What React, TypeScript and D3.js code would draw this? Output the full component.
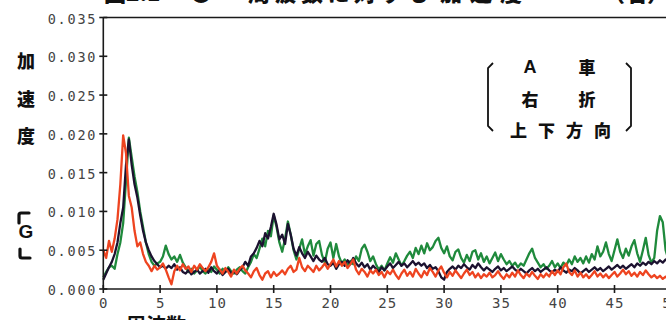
import React from 'react';
import * as d3 from 'd3';

// Frequency step of the sampled spectra (Hz)
const FREQ_STEP = 0.25;

// Acceleration values in units of 0.001 G, sampled every 0.25 Hz from 0 Hz
const SERIES_BLACK = [
  1.2,2.0,2.8,3.5,4.5,6.0,8.5,10.5,16.0,19.3,16.0,13.5,11.8,9.5,7.5,6.0,5.0,4.2,3.6,3.2,
  2.8,3.0,2.6,3.0,2.7,3.2,2.5,2.8,2.2,2.0,2.4,1.9,2.2,2.5,2.0,2.3,2.6,2.1,2.8,2.3,
  2.0,2.5,1.8,2.2,2.6,2.0,2.3,1.9,2.4,2.8,3.5,3.0,4.2,4.6,5.3,6.2,5.5,7.2,6.5,8.0,
  9.7,8.3,6.4,7.0,5.8,8.4,7.0,5.2,4.3,5.4,4.6,4.0,4.8,4.2,3.6,4.3,3.8,3.5,4.0,3.2,
  3.0,3.4,2.6,3.2,3.5,3.0,3.7,3.2,4.0,3.3,2.9,3.4,2.8,3.2,2.5,3.0,2.6,2.2,2.8,2.4,
  2.9,3.3,2.7,3.1,3.5,3.0,3.3,2.8,3.2,3.6,3.1,3.4,3.0,3.3,2.7,3.1,2.6,2.8,2.3,1.5,
  1.2,2.2,2.6,2.9,2.5,3.0,2.7,3.2,2.8,2.5,3.1,2.7,3.3,2.8,2.4,2.8,2.5,2.2,2.6,2.9,
  2.4,2.7,2.3,2.6,2.9,2.5,2.2,2.6,2.3,2.0,2.4,2.7,2.3,2.6,2.2,2.5,2.8,2.4,2.1,2.5,
  2.2,2.8,2.4,2.1,2.5,2.3,2.7,2.4,2.0,2.3,2.6,2.2,2.5,2.8,2.4,2.7,2.3,2.6,2.9,2.5,
  2.8,3.1,2.7,3.0,2.6,2.9,3.2,2.8,3.3,3.0,3.4,3.1,3.5,3.2,3.6,3.3,3.7,3.4,3.8,3.5,
  3.6,3.4,3.7,3.5,
];

const SERIES_GREEN = [
  1.5,2.2,2.8,3.0,2.6,4.5,6.0,8.5,14.0,19.5,17.0,14.5,12.5,10.0,8.0,6.0,4.5,3.5,3.0,3.3,
  3.5,4.2,5.6,4.5,3.8,4.2,3.5,4.4,3.4,2.8,2.2,2.6,2.0,2.4,2.9,2.3,2.0,2.6,2.2,2.9,
  2.5,2.0,2.6,2.2,2.8,2.3,2.0,2.5,2.8,2.3,2.0,2.8,3.5,4.5,4.0,5.2,6.5,5.5,7.5,6.8,
  9.5,8.0,6.0,4.8,6.5,8.7,7.0,5.0,3.8,5.2,6.4,4.5,5.5,6.3,4.3,5.8,6.2,4.4,3.4,5.2,
  6.0,4.0,5.8,4.2,3.3,3.8,3.0,3.6,3.2,4.2,3.6,5.2,5.7,4.8,3.6,4.2,3.2,2.5,3.0,2.4,
  3.3,4.1,3.4,4.6,3.8,3.0,3.6,4.3,4.8,4.0,5.3,4.5,5.6,4.6,5.9,5.0,5.4,6.2,6.6,5.3,
  4.6,5.5,4.2,3.7,4.8,5.1,4.0,3.4,4.4,3.6,4.8,5.0,3.8,4.6,3.5,4.2,3.3,4.0,4.7,3.6,
  4.5,3.8,3.2,3.6,3.0,3.4,2.8,3.3,3.0,3.8,4.6,5.2,4.0,3.4,2.8,3.2,2.6,3.0,3.6,2.8,
  3.3,2.7,3.4,3.0,3.8,3.2,4.2,3.5,4.0,3.3,4.2,3.4,4.5,3.8,5.5,4.2,4.8,6.0,4.5,3.6,
  5.0,6.4,4.8,4.0,5.2,4.3,5.5,6.3,4.6,3.5,5.0,6.6,4.4,3.4,4.0,7.5,9.4,8.6,5.0,3.8,
  6.0,5.0,4.5,5.2,
];

const SERIES_RED = [
  5.0,4.0,6.2,4.8,6.5,9.0,13.5,19.8,17.5,12.0,10.5,7.5,5.5,6.0,4.5,3.5,3.0,2.3,3.0,2.5,
  2.8,3.3,2.5,1.5,0.6,2.3,3.0,2.4,3.2,2.6,2.9,2.2,3.0,2.5,3.2,2.7,2.3,2.8,3.5,4.6,
  3.0,2.5,2.0,2.7,2.2,1.6,2.5,2.0,2.6,3.0,2.4,2.0,1.5,2.3,2.7,1.8,1.2,2.0,2.3,1.5,
  2.2,1.7,2.0,2.4,1.9,2.6,3.0,2.2,2.5,4.0,2.8,2.3,3.0,2.6,2.2,3.0,2.4,2.8,3.3,2.6,
  3.2,3.8,2.9,3.6,3.0,3.5,2.7,3.2,3.8,2.5,1.9,2.6,2.2,1.6,2.4,2.0,2.5,1.8,2.2,1.5,
  2.3,1.9,2.5,1.8,1.3,2.0,2.5,1.7,2.2,1.6,2.6,2.0,1.5,2.3,1.8,2.7,2.2,1.6,2.4,2.9,
  2.1,1.5,2.2,1.7,2.4,1.9,1.4,2.0,2.5,1.8,2.2,1.5,2.0,1.4,1.9,1.6,2.1,1.5,1.8,2.3,
  1.7,1.3,1.9,1.5,2.1,1.6,2.4,1.8,1.4,2.0,1.6,2.2,1.7,1.3,1.9,1.5,2.0,1.6,2.3,1.8,
  2.4,1.9,2.8,3.3,2.2,1.8,2.4,1.6,2.1,1.5,1.9,1.4,1.8,2.3,1.6,2.0,1.5,1.9,1.4,1.8,
  2.2,1.6,2.0,2.5,1.9,2.3,1.7,2.1,1.6,2.2,1.8,2.4,1.9,1.5,1.8,1.4,1.7,1.3,1.6,1.2,
  1.5,1.3,1.6,1.4,
];

const X_TICKS = [0, 5, 10, 15, 20, 25, 30, 35, 40, 45, 50];
const Y_TICKS = [0, 0.005, 0.01, 0.015, 0.02, 0.025, 0.03, 0.035];
const Y_TICK_LABELS = ['0.000', '0.005', '0.010', '0.015', '0.020', '0.025', '0.030', '0.035'];
const Y_TITLE_CHARS = ['加', '速', '度'];
const LEGEND_ROW1 = ['A', '車'];
const LEGEND_ROW2 = ['右', '折'];
const LEGEND_ROW3 = ['上', '下', '方', '向'];

const COLOR_GREEN = '#1f8a3c';
const COLOR_BLACK = '#1c1230';
const COLOR_RED = '#ee4420';

const JP = '"Noto Sans CJK JP", "Noto Sans", sans-serif';
const MONO = '"DejaVu Sans Mono", "Liberation Mono", monospace';

export default function App() {
  const x = d3.scaleLinear().domain([0, 50]).range([103.3, 671.3]);
  const y = d3.scaleLinear().domain([0, 0.035]).range([289, 17.5]);
  const line = d3
    .line<number>()
    .x((_, i) => x(i * FREQ_STEP))
    .y((d) => y(d / 1000))
    .curve(d3.curveLinear);

  const x0 = x(0);
  const y0 = y(0);
  const yTop = y(0.035);

  return (
    <svg
      width={666}
      height={320}
      style={{ position: 'absolute', left: 0, top: 0, background: '#fff' }}
    >
      {/* cut-off title at the top */}
      <g fontFamily={JP} fontWeight={900} fontSize={22} fill="#111">
        <text x={104} y={1}>図2.1</text>
        <text x={190} y={1}>●</text>
        <text x={248} y={1} letterSpacing={4.5}>周波数に対する</text>
        <text x={440} y={1} letterSpacing={8}>加速度</text>
        <text x={603} y={1}>（右）</text>
      </g>

      {/* cut-off x-axis title at the bottom */}
      <text x={126} y={333} fontFamily={JP} fontWeight={700} fontSize={20} fill="#111">
        周波数
      </text>

      {/* series */}
      <g fill="none" strokeWidth={2.3} strokeLinejoin="round">
        <path d={line(SERIES_GREEN) || ''} stroke={COLOR_GREEN} />
        <path d={line(SERIES_BLACK) || ''} stroke={COLOR_BLACK} />
        <path d={line(SERIES_RED) || ''} stroke={COLOR_RED} />
      </g>

      {/* axes */}
      <g stroke="#1a1a1a" strokeWidth={1.6}>
        <line x1={x0} x2={666} y1={y0} y2={y0} />
        <line x1={x0} x2={x0} y1={y0} y2={yTop} />
        <line x1={x0} x2={666} y1={yTop} y2={yTop} />
        {Y_TICKS.map((t) => (
          <line key={'yt' + t} x1={x0 - 4} x2={x0 + 4} y1={y(t)} y2={y(t)} />
        ))}
        {X_TICKS.map((t) => (
          <line key={'xt' + t} x1={x(t)} x2={x(t)} y1={y0 - 4} y2={y0 + 4} />
        ))}
      </g>

      {/* tick labels */}
      <g fontFamily={MONO} fontSize={13.5} fill="#444">
        {Y_TICKS.map((t, i) => (
          <text
            key={'yl' + t}
            x={x0 - 6}
            y={y(t) + 1}
            textAnchor="end"
            dominantBaseline="central"
            letterSpacing={1.8}
          >
            {Y_TICK_LABELS[i]}
          </text>
        ))}
        {X_TICKS.map((t) => (
          <text
            key={'xl' + t}
            x={x(t) + 0.5}
            y={303}
            textAnchor="middle"
            dominantBaseline="central"
            fontSize={14}
            letterSpacing={1}
          >
            {String(t)}
          </text>
        ))}
      </g>

      {/* y-axis title */}
      <g fontFamily={JP} fontWeight={900} fontSize={18} fill="#111" textAnchor="middle">
        {Y_TITLE_CHARS.map((c, i) => (
          <text key={c} x={26} y={60 + i * 37.5} dominantBaseline="central">
            {c}
          </text>
        ))}
        <text
          x={26}
          y={231}
          dominantBaseline="central"
          fontFamily='"Liberation Sans", Arial, sans-serif'
          fontWeight={700}
          fontSize={19}
        >
          G
        </text>
      </g>
      <g stroke="#111" strokeWidth={3.2} fill="none" strokeLinecap="round">
        <path d="M19 223 L19 215 Q19 213 21 213 L29 213" />
        <path d="M20 249 L20 256 Q20 258 22 258 L30 258" />
      </g>

      {/* legend note */}
      <g fontFamily={JP} fontWeight={900} fontSize={17} fill="#111" textAnchor="middle">
        <text
          x={530}
          y={67}
          dominantBaseline="central"
          fontFamily='"Liberation Sans", Arial, sans-serif'
          fontWeight={700}
          fontSize={18}
        >
          {LEGEND_ROW1[0]}
        </text>
        <text x={587} y={66} dominantBaseline="central">{LEGEND_ROW1[1]}</text>
        <text x={530} y={98} dominantBaseline="central">{LEGEND_ROW2[0]}</text>
        <text x={587} y={98} dominantBaseline="central">{LEGEND_ROW2[1]}</text>
        {LEGEND_ROW3.map((c, i) => (
          <text key={c} x={518.5 + i * 28} y={129} dominantBaseline="central">
            {c}
          </text>
        ))}
      </g>
      <g stroke="#111" strokeWidth={1.8} fill="none">
        <path d="M493 63 L488 68 L488 126 L493 131" />
        <path d="M626 63 L631 68 L631 126 L626 131" />
      </g>
    </svg>
  );
}
